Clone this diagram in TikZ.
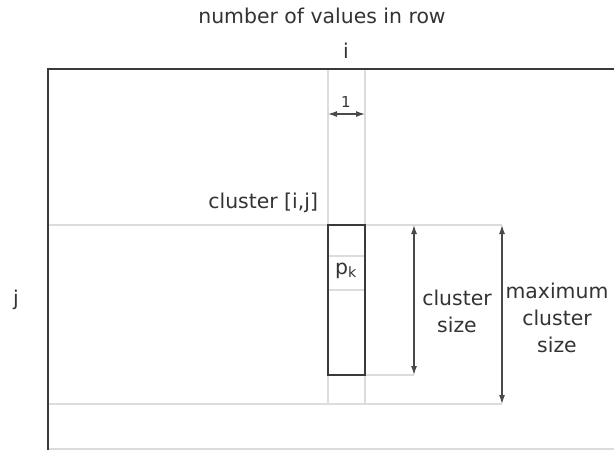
\documentclass[tikz,border=0pt]{standalone}
\usepackage{fontspec}
\setmainfont{DejaVu Sans}
\usetikzlibrary{arrows.meta}
\definecolor{ink}{HTML}{333333}
\definecolor{frameline}{HTML}{3A3A3A}
\definecolor{guide}{HTML}{DCDCDC}
\definecolor{dimline}{HTML}{4A4A4A}
\tikzset{
  txt/.style={inner sep=0pt, outer sep=0pt, text=ink, anchor=base,
    font=\fontsize{20.4}{27}\selectfont},
  smalltxt/.style={txt, font=\fontsize{15}{18}\selectfont},
  frame/.style={draw=frameline, line width=2.4pt},
  guideline/.style={draw=guide, line width=1.6pt},
  clusterbox/.style={draw=frameline, line width=2pt, fill=none, inner sep=0pt, outer sep=0pt},
  dim/.style={draw=dimline, line width=1.2pt, {Latex[length=9pt,width=6pt]}-{Latex[length=9pt,width=6pt]}}
}
\begin{document}
\begin{tikzpicture}[x=1pt, y=-1pt]
\useasboundingbox (0,0) rectangle (614,450);

% axis labels
\node[txt] (title) at (322,23) {number of values in row};
\node[txt] (icol) at (346,58) {i};
\node[txt] (jrow) at (16,305) {j};

% column and row guides
\coordinate (cl) at (328,69);
\coordinate (cr) at (365,69);
\coordinate (clb) at (328,404);
\coordinate (crb) at (365,404);
\coordinate (rowtopL) at (48,225);
\coordinate (rowtopR) at (502,225);
\coordinate (rowbotL) at (48,404);
\coordinate (rowbotR) at (502,404);
\coordinate (cendL) at (365,375);
\coordinate (cendR) at (414,375);
\draw[guideline] (cl) -- (clb);
\draw[guideline] (cr) -- (crb);
\draw[guideline] (rowtopL) -- (rowtopR);
\draw[guideline] (rowbotL) -- (rowbotR);
\draw[guideline] (cendL) -- (cendR);
\draw[guideline] (48,449) -- (614,449);

% frame: top and left edges
\coordinate (fTL) at (48,69);
\coordinate (fTR) at (614,69);
\coordinate (fBL) at (48,450);
\draw[frame] (fTR) -- (fTL) -- (fBL);

% cluster cell with its value slots
\draw[guideline] (328,256) -- (365,256);
\draw[guideline] (328,290) -- (365,290);
\node[clusterbox, minimum width=37pt, minimum height=150pt, anchor=north west] (cluster) at (328,225) {};
\node[txt, anchor=base] (pk) at (346,274) {p\textsubscript{k}};
\node[txt, anchor=base east] (clabel) at (318,208) {cluster [i,j]};

% width of one value
\node[smalltxt] (one) at (346,107) {1};
\coordinate (oneL) at (328,114);
\coordinate (oneR) at (365,114);
\draw[dim] (oneL) -- (oneR);

% cluster size
\coordinate (csT) at (414,225);
\coordinate (csB) at (414,375);
\draw[dim] (csT) -- (csB);
\node[txt, align=center, anchor=base] (cs) at (457,332) {cluster\\size};

% maximum cluster size
\coordinate (msT) at (502,225);
\coordinate (msB) at (502,404);
\draw[dim] (msT) -- (msB);
\node[txt, align=center, anchor=base] (ms) at (557,352) {maximum\\cluster\\size};
\end{tikzpicture}
\end{document}
